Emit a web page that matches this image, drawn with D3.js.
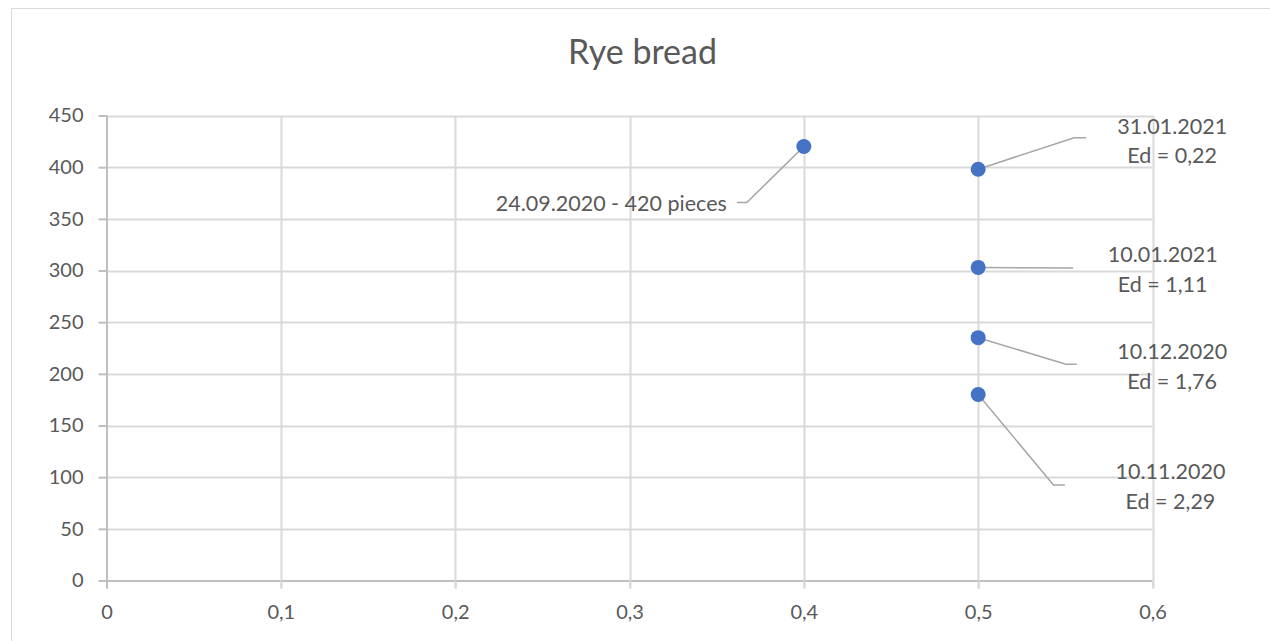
<!DOCTYPE html>
<html>
<head>
<meta charset="utf-8">
<script src="https://cdn.jsdelivr.net/npm/d3@7"></script>
<style>
  html, body { margin: 0; padding: 0; background: #fff; }
  svg { display: block; font-family: Lato, "Open Sans", sans-serif; }
</style>
</head>
<body>
<svg id="chart" width="1270" height="641"></svg>
<script>
// Scatter data: elasticity (x) against pieces sold (y)
const xValues = [0.4, 0.5, 0.5, 0.5, 0.5];
const yValues = [420, 398, 303, 235, 180];
const labelLines = [
  ["24.09.2020 - 420 pieces"],
  ["31.01.2021", "Ed = 0,22"],
  ["10.01.2021", "Ed = 1,11"],
  ["10.12.2020", "Ed = 1,76"],
  ["10.11.2020", "Ed = 2,29"]
];
const xTicks = [0, 0.1, 0.2, 0.3, 0.4, 0.5, 0.6];
const yTicks = [0, 50, 100, 150, 200, 250, 300, 350, 400, 450];
const title = "Rye bread";

// Callout placement relative to each marker (pixels)
const callouts = [
  { anchor: "end",    tx: -77,   ty: [57],        elbow: [-57, 56],   end: [-67, 56] },
  { anchor: "middle", tx: 194,   ty: [-43, -14],  elbow: [96, -31.5], end: [108, -31.5] },
  { anchor: "middle", tx: 184.5, ty: [-12.5, 17], elbow: [95, 0.6],   end: [95, 0.6] },
  { anchor: "middle", tx: 194,   ty: [13.5, 43.5],elbow: [87.7, 26.6],end: [98.7, 26.6] },
  { anchor: "middle", tx: 192.3, ty: [77, 106.5], elbow: [75.3, 90.5],end: [86.7, 90.5] }
];

const svg = d3.select("#chart");
const textColor = "#595959";
const gridColor = "#d9d9d9";
const axisColor = "#bfbfbf";

// chart frame
svg.append("rect")
  .attr("x", 11.5).attr("y", 8.5)
  .attr("width", 1300).attr("height", 700)
  .attr("fill", "#fff").attr("stroke", gridColor).attr("stroke-width", 1);

const x = d3.scaleLinear().domain([0, 0.6]).range([106.5, 1152.5]);
const y = d3.scaleLinear().domain([0, 450]).range([580.5, 115.5]);

// title
svg.append("text")
  .attr("x", 642.5).attr("y", 64)
  .attr("text-anchor", "middle")
  .attr("fill", textColor)
  .attr("font-size", 34)
  .text(title);

// gridlines
const grid = svg.append("g");
grid.selectAll("line.h").data(yTicks.filter(d => d > 0)).join("line")
  .attr("x1", x(0)).attr("x2", x(0.6))
  .attr("y1", d => Math.round(y(d)) + 0.5).attr("y2", d => Math.round(y(d)) + 0.5)
  .attr("stroke", gridColor).attr("stroke-width", 2);
grid.selectAll("line.v").data(xTicks.filter(d => d > 0)).join("line")
  .attr("y1", y(450)).attr("y2", y(0) + 8)
  .attr("x1", d => Math.round(x(d)) + 0.5).attr("x2", d => Math.round(x(d)) + 0.5)
  .attr("stroke", gridColor).attr("stroke-width", 2);

// axes
const fmt = d => String(d).replace(".", ",");
const yAxis = svg.append("g")
  .attr("transform", `translate(${x(0)},0)`)
  .call(d3.axisLeft(y).tickValues(yTicks).tickSize(8).tickSizeOuter(0).tickPadding(15).tickFormat(fmt));
const xAxis = svg.append("g")
  .attr("transform", `translate(0,${y(0)})`)
  .call(d3.axisBottom(x).tickValues(xTicks).tickSize(8).tickSizeOuter(0).tickPadding(16).tickFormat(fmt));
[yAxis, xAxis].forEach(a => {
  a.select(".domain").attr("stroke", axisColor).attr("stroke-width", 2);
  a.selectAll(".tick line").attr("stroke", axisColor).attr("stroke-width", 2);
  a.selectAll(".tick text").attr("fill", textColor).attr("font-size", 20).attr("font-family", "Lato, sans-serif");
});
xAxis.selectAll(".tick line").attr("stroke", d => d === 0 ? axisColor : gridColor);
yAxis.select(".domain").attr("d", `M0.5,${y(450)}V${y(0) + 8}`);
xAxis.select(".domain").attr("d", `M${x(0)},0.5H${x(0.6)}`);

// leader lines
const points = xValues.map((v, i) => ({ px: x(v), py: y(yValues[i]), c: callouts[i], lines: labelLines[i] }));
svg.append("g").selectAll("path").data(points).join("path")
  .attr("d", d => `M${d.px},${d.py}L${d.px + d.c.elbow[0]},${d.py + d.c.elbow[1]}L${d.px + d.c.end[0]},${d.py + d.c.end[1]}`)
  .attr("fill", "none").attr("stroke", "#a6a6a6").attr("stroke-width", 1.5);

// markers
svg.append("g").selectAll("circle").data(points).join("circle")
  .attr("cx", d => d.px).attr("cy", d => d.py).attr("r", 7.5)
  .attr("fill", "#4472c4");

// data labels
const lbl = svg.append("g").selectAll("text").data(points).join("text")
  .attr("text-anchor", d => d.c.anchor)
  .attr("fill", textColor).attr("font-size", 21.5);
lbl.selectAll("tspan").data(d => d.lines.map((t, j) => ({ t, x: d.px + d.c.tx, y: d.py + d.c.ty[j] + 7.5 }))).join("tspan")
  .attr("x", d => d.x).attr("y", d => d.y).text(d => d.t);
</script>
</body>
</html>
